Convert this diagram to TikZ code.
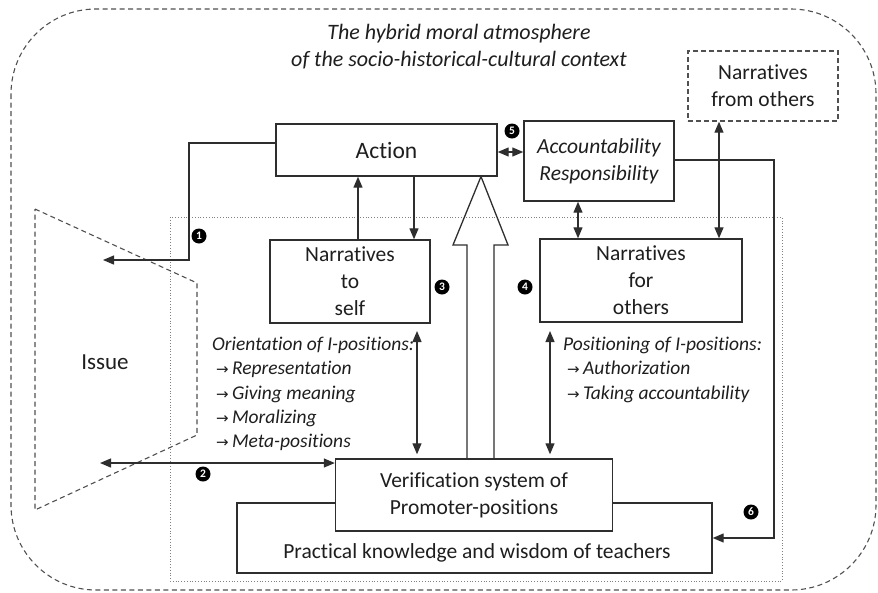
\documentclass[tikz,border=0pt]{standalone}
\usepackage{fontspec}
\setmainfont{Carlito}[Ligatures={NoCommon,NoContextual}]
\newfontfamily\symfont{DejaVu Sans}
\usetikzlibrary{arrows.meta}
\definecolor{ln}{HTML}{2E2E2E}
\definecolor{tx}{HTML}{1E1E1E}
\definecolor{dsh}{HTML}{505050}
\tikzset{
  box/.style={draw=ln, line width=1.4pt, fill=white, inner sep=0pt, align=center, text=tx, font=\fontsize{21.5}{27}\selectfont},
  dbox/.style={box, draw=dsh, dash pattern=on 5pt off 3pt},
  conn/.style={draw=ln, line width=1.3pt},
  tip/.style={-{Triangle[length=11pt,width=9pt]}},
  dtip/.style={{Triangle[length=11pt,width=9pt]}-{Triangle[length=11pt,width=9pt]}},
  badge/.style={circle, fill=black, text=white, inner sep=0pt, minimum size=15pt, font=\fontsize{11.5}{11.5}\selectfont\bfseries},
  lst/.style={align=left, text=tx, inner sep=0pt, font=\fontsize{19.5}{24.3}\selectfont\itshape},
  plain/.style={text=tx, inner sep=0pt, align=center},
}
\newcommand{\ar}{{\symfont\fontsize{15}{15}\selectfont →}\,}
\begin{document}
\begin{tikzpicture}[x=1pt,y=-1pt]
\useasboundingbox (0,0) rectangle (878,592);
% outer dashed context
\draw[draw=dsh, line width=1.1pt, dash pattern=on 5pt off 3.5pt, rounded corners=85pt] (11,9) rectangle (876,590);
% inner dotted frame
\draw[draw=gray, line width=0.8pt, dotted] (170,217) rectangle (782,581);
% Issue shape
\draw[draw=dsh, line width=1.1pt, dash pattern=on 5pt off 3.5pt] (35,209) -- (197,283) -- (197,435) -- (35,510) -- cycle;
\node[plain, font=\fontsize{23}{24}\selectfont] (issue) at (105,362) {Issue};
% title
\node[plain, font=\fontsize{22}{27}\selectfont\itshape] (title) at (459,47) {The hybrid moral atmosphere\\of the socio-historical-cultural context};

% boxes
\node[box, minimum width=221pt, minimum height=52pt, font=\fontsize{23.5}{27}\selectfont] (act) at (386.5,150) {Action};
\node[box, minimum width=150pt, minimum height=80pt, font=\fontsize{21.5}{27}\selectfont\itshape] (acc) at (599,161) {Accountability\\Responsibility};
\node[dbox, minimum width=150pt, minimum height=70pt] (nfrom) at (763,86) {Narratives\\from others};
\node[box, minimum width=160pt, minimum height=83pt] (nself) at (350,281.5) {Narratives\\to\\self};
\node[box, minimum width=202pt, minimum height=83pt] (nfo) at (641,280.5) {Narratives\\for\\others};
\node[box, minimum width=475pt, minimum height=70pt] (prac) at (474.5,538) {};
\node[plain, font=\fontsize{21.5}{24}\selectfont] (pract) at (477,553) {Practical knowledge and wisdom of teachers};
\node[box, minimum width=277pt, minimum height=72pt] (verif) at (474,495) {Verification system of\\Promoter-positions};

% big hollow arrow
\draw[draw=ln, line width=1.3pt, line join=miter] (481,176.5) -- (508,245) -- (494,245) -- (494,459) -- (467,459) -- (467,245) -- (453,245) -- cycle;

% connectors
\coordinate (iss1) at (103,260);
\draw[conn, tip] (act.west |- 0,143) -| (189,260) -- (iss1);
\node[badge] (b1) at (199,236) {1};

\coordinate (iss2) at (100,463);
\draw[conn, dtip] (iss2) -- (iss2 -| verif.west);
\node[badge] (b2) at (203,474) {2};

\draw[conn, tip] (nself.north -| 358,0) -- (act.south -| 358,0);
\draw[conn, tip] (act.south -| 414,0) -- (nself.north -| 414,0);

\draw[conn, dtip] (act.east |- 0,152) -- (acc.west |- 0,152);
\node[badge] (b5) at (512,131) {5};

\draw[conn, dtip] (acc.south -| 578,0) -- (nfo.north -| 578,0);
\draw[conn, dtip] (nfrom.south -| 719,0) -- (nfo.north -| 719,0);

\coordinate (vl) at (417,331);
\coordinate (vr) at (550,331);
\draw[conn, dtip, shorten >=4pt] (vl) -- (vl |- verif.north);
\draw[conn, dtip, shorten >=4pt] (vr) -- (vr |- verif.north);
\node[badge] (b3) at (442,287) {3};
\node[badge] (b4) at (525,287) {4};

\draw[conn, tip] (acc.east |- 0,160) -| (774,538) -- (prac.east);
\node[badge] (b6) at (751,512) {6};

% lists
\node[lst, anchor=north west] (orient) at (212,337) {Orientation of I-positions:\\
\hspace*{4pt}\ar Representation\\
\hspace*{4pt}\ar Giving meaning\\
\hspace*{4pt}\ar Moralizing\\
\hspace*{4pt}\ar Meta-positions};
\node[lst, anchor=north west] (posit) at (563,337) {Positioning of I-positions:\\
\hspace*{4pt}\ar Authorization\\
\hspace*{4pt}\ar Taking accountability};
\end{tikzpicture}
\end{document}
